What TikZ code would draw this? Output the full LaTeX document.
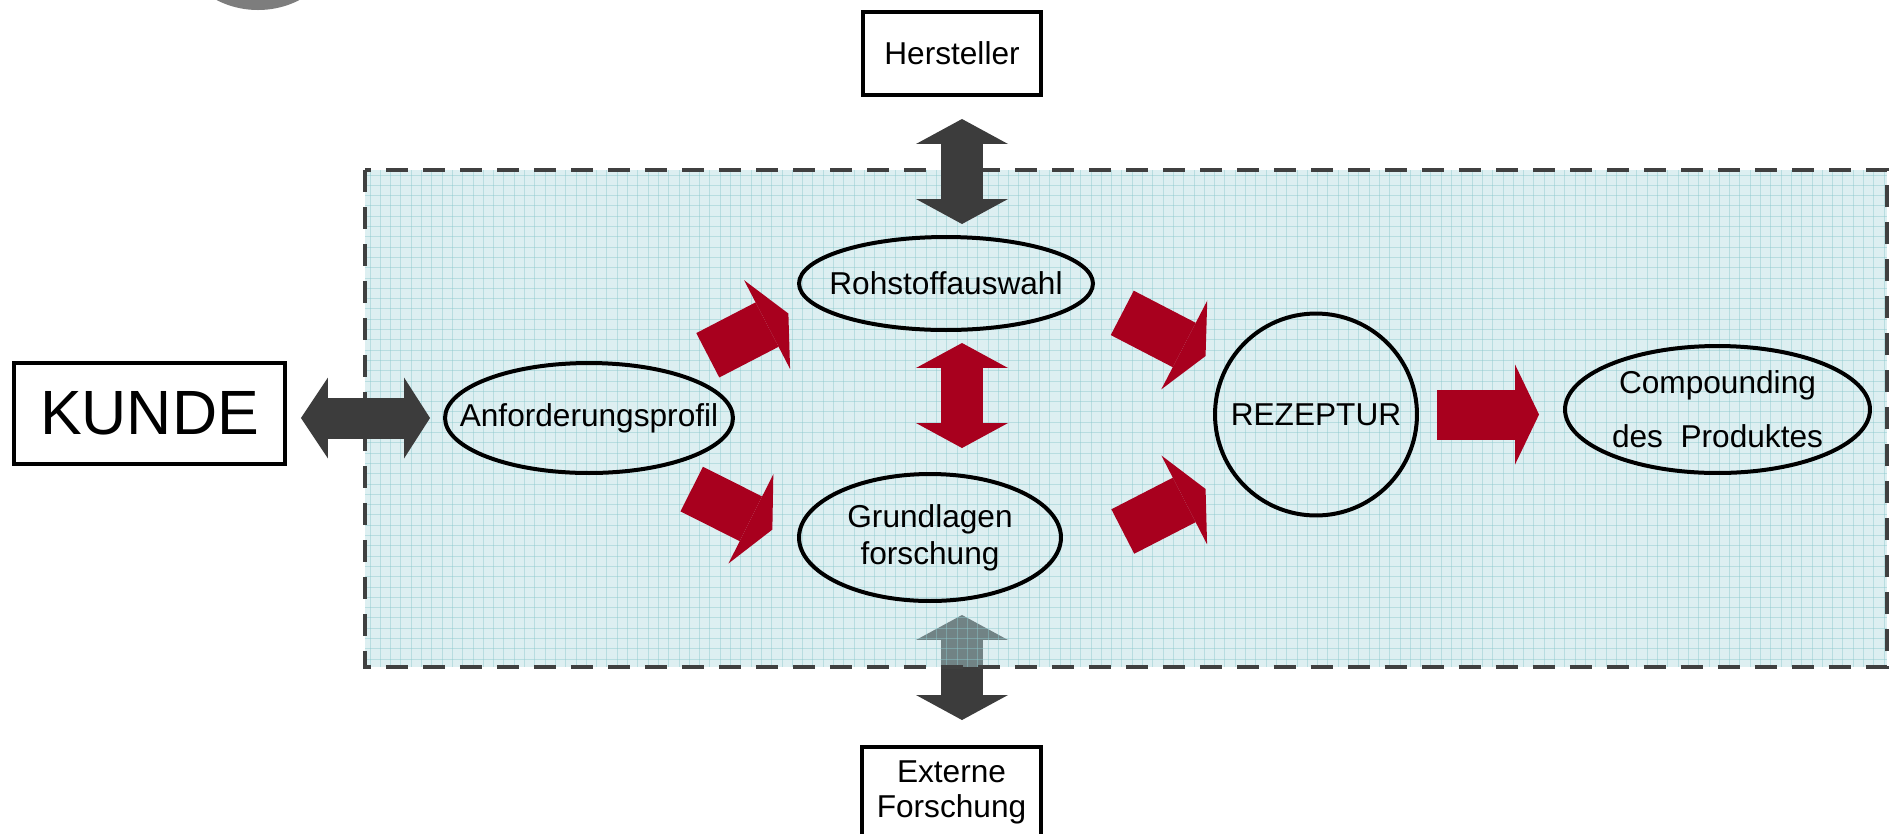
\documentclass[tikz,border=0pt]{standalone}
\usepackage{fontspec}
\setmainfont{Liberation Sans}
\usetikzlibrary{shapes.geometric,arrows.meta,calc}

\definecolor{arrowred}{RGB}{168,0,30}
\definecolor{arrowgrey}{RGB}{60,60,60}
\definecolor{framegrey}{RGB}{64,64,64}
\definecolor{panelfill}{RGB}{179,219,224}
\definecolor{panelgrid}{RGB}{140,200,205}
\definecolor{logogrey}{RGB}{125,125,125}

\pgfdeclarelayer{under}
\pgfdeclarelayer{panel}
\pgfsetlayers{under,panel,main}

\begin{document}
\begin{tikzpicture}[x=0.02cm,y=-0.02cm,
  partner/.style={draw,line width=0.08cm,inner sep=0pt,font=\fontsize{18}{21.6}\selectfont,align=center},
  task/.style={ellipse,draw,line width=0.08cm,inner sep=-1cm,font=\fontsize{18}{21.6}\selectfont,align=center},
  flow/.style={draw=arrowred,line width=1cm,-{Triangle[length=0.48cm,width=2cm,line width=0pt]}},
  link/.style={line width=0.84cm,{Triangle[length=0.5cm,width=1.84cm,line width=0pt]}-{Triangle[length=0.5cm,width=1.84cm,line width=0pt]}},
  gridline/.style={draw=panelgrid,draw opacity=0.45,line width=0.02cm}]
\useasboundingbox (0,0) rectangle (1890,833);
\fill[logogrey] (258,-81) circle [radius=91];

\node[partner,minimum width=5.42cm,minimum height=2.02cm,font=\fontsize{35.6}{40}\selectfont] (kunde) at (149.5,413.5) {KUNDE};
\node[partner,minimum width=3.56cm,minimum height=1.66cm] (hersteller) at (952,53.5) {Hersteller};
\node[partner,minimum width=3.58cm,minimum height=1.82cm,font=\fontsize{18}{19.9}\selectfont] (extern) at (951.5,792.5) {Externe\\Forschung};
\node[task,minimum width=5.76cm,minimum height=2.2cm] (anf) at (589,418) {Anforderungsprofil};
\node[task,minimum width=5.88cm,minimum height=1.86cm] (roh) at (946,283.5) {Rohstoffauswahl};
\node[task,minimum width=5.24cm,minimum height=2.54cm,font=\fontsize{18}{21}\selectfont] (grund) at (930,537.5) {Grundlagen\\forschung};
\node[task,circle,minimum size=4.04cm] (rez) at (1316,414.5) {REZEPTUR};
\node[task,minimum width=6.1cm,minimum height=2.54cm,font=\fontsize{18}{30.7}\selectfont] (comp) at (1717.5,409.5) {Compounding\\des~~Produktes};

\begin{pgfonlayer}{panel}
\fill[panelfill,fill opacity=0.45] (365,170) rectangle (1887,667);
\foreach \gx in {370,380.3,...,1885} \draw[gridline] (\gx,170) -- (\gx,667);
\foreach \gy in {175,185.3,...,665} \draw[gridline] (365,\gy) -- (1887,\gy);
\draw[framegrey,line width=0.09cm,dash pattern=on 0.44cm off 0.3cm] (365,170) rectangle (1887,667);
\end{pgfonlayer}

\begin{pgfonlayer}{under}
\draw[link,draw=arrowgrey,shorten <=0.24cm,shorten >=0.5cm] ($(grund.south)+(32,0)$) -- ($(grund.south|-extern.north)+(32,0)$);
\end{pgfonlayer}

\draw[link,draw=arrowgrey,shorten <=0.44cm,shorten >=0.22cm] ($(hersteller.south)+(10,0)$) -- ($(hersteller.south|-roh.north)+(10,0)$);
\draw[link,draw=arrowred,shorten <=0.22cm,shorten >=0.48cm] ($(roh.south)+(16,0)$) -- ($(roh.south|-grund.north)+(16,0)$);
\draw[draw=arrowgrey,line width=0.82cm,{Triangle[length=0.54cm,width=1.62cm,line width=0pt]}-{Triangle[length=0.52cm,width=1.62cm,line width=0pt]},shorten <=0.28cm,shorten >=0.26cm] (kunde.east|-anf.west) -- (anf.west);

\draw[flow,shorten <=0.73cm,shorten >=0.47cm] (anf.28) -- (roh.188);
\draw[flow,shorten <=0.88cm,shorten >=0.56cm] (anf.-39) -- (grund.182);
\draw[flow,shorten <=0.73cm,shorten >=0.44cm] (roh.-5) -- (rez.152);
\draw[flow,shorten <=1.84cm,shorten >=0.61cm] (grund.-18) -- (rez.216);
\draw[flow,shorten <=0.36cm,shorten >=0.48cm] (rez.east) -- (rez.east-|comp.west);
\end{tikzpicture}
\end{document}
